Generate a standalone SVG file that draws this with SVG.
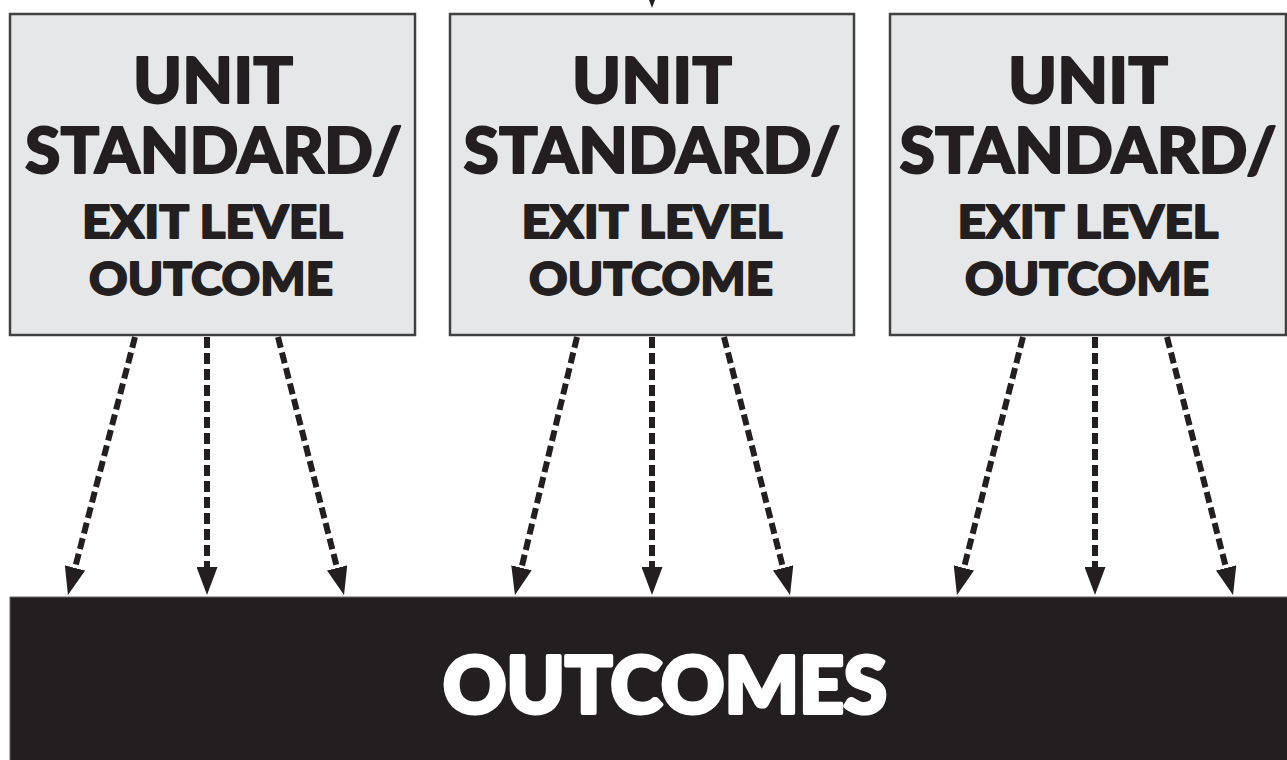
<svg xmlns="http://www.w3.org/2000/svg" width="1287" height="760" viewBox="0 0 1287 760">
<style>
.box{fill:#e6e7e8;stroke:#404040;stroke-width:2.5}
.t{font-family:Lato,"Liberation Sans",sans-serif;font-weight:900;fill:#231f20;stroke:#231f20;stroke-width:1.8;stroke-linejoin:round;text-anchor:middle}
.big{font-size:62px}
.sm{font-size:46px}
.conn{stroke:#231f20;stroke-width:6;stroke-dasharray:11 5;fill:none;marker-end:url(#ah)}
.out{fill:#231f20;stroke:#666;stroke-width:1}
.ot{font-family:Lato,"Liberation Sans",sans-serif;font-weight:900;font-size:78px;fill:#ffffff;stroke:#ffffff;stroke-width:4;stroke-linejoin:round;text-anchor:middle}
</style>
<defs>
<marker id="ah" markerUnits="userSpaceOnUse" markerWidth="28" markerHeight="21" viewBox="0 0 28 21" refX="0" refY="10.5" orient="auto">
<path d="M0,0 L28,10.5 L0,21 z" fill="#231f20"/>
</marker>
</defs>
<rect width="1287" height="760" fill="#ffffff"/>
<g id="node-unit1">
<rect class="box" x="10" y="14" width="405" height="321"/>
<text class="t big" x="213" y="103" textLength="160" lengthAdjust="spacingAndGlyphs">UNIT</text>
<text class="t big" x="213.5" y="173" textLength="377" lengthAdjust="spacingAndGlyphs">STANDARD/</text>
<text class="t sm" x="212.5" y="238" textLength="261" lengthAdjust="spacingAndGlyphs">EXIT LEVEL</text>
<text class="t sm" x="211" y="295" textLength="244" lengthAdjust="spacingAndGlyphs">OUTCOME</text>
</g>
<g id="node-unit2">
<rect class="box" x="450" y="14" width="404" height="321"/>
<text class="t big" x="652" y="103" textLength="160" lengthAdjust="spacingAndGlyphs">UNIT</text>
<text class="t big" x="652" y="173" textLength="377" lengthAdjust="spacingAndGlyphs">STANDARD/</text>
<text class="t sm" x="652" y="238" textLength="261" lengthAdjust="spacingAndGlyphs">EXIT LEVEL</text>
<text class="t sm" x="651" y="295" textLength="244" lengthAdjust="spacingAndGlyphs">OUTCOME</text>
</g>
<g id="node-unit3">
<rect class="box" x="890" y="14" width="396" height="321"/>
<text class="t big" x="1088" y="103" textLength="160" lengthAdjust="spacingAndGlyphs">UNIT</text>
<text class="t big" x="1088" y="173" textLength="377" lengthAdjust="spacingAndGlyphs">STANDARD/</text>
<text class="t sm" x="1088" y="238" textLength="261" lengthAdjust="spacingAndGlyphs">EXIT LEVEL</text>
<text class="t sm" x="1087" y="295" textLength="244" lengthAdjust="spacingAndGlyphs">OUTCOME</text>
</g>
<g id="node-outcomes">
<rect class="out" x="10" y="597" width="1290" height="170"/>
<text class="ot" x="665" y="713" textLength="444" lengthAdjust="spacingAndGlyphs">OUTCOMES</text>
</g>
<g id="connectors">
<line class="conn" x1="135" y1="337" x2="75" y2="567.9"/>
<line class="conn" x1="207" y1="337" x2="207" y2="567"/>
<line class="conn" x1="278" y1="337" x2="337.1" y2="567.9"/>
<line class="conn" x1="577" y1="337" x2="521.5" y2="567.8"/>
<line class="conn" x1="652" y1="337" x2="652" y2="567"/>
<line class="conn" x1="724" y1="337" x2="783.1" y2="567.9"/>
<line class="conn" x1="1023" y1="337" x2="963.9" y2="567.9"/>
<line class="conn" x1="1095" y1="337" x2="1095" y2="567"/>
<line class="conn" x1="1167" y1="337" x2="1226.1" y2="567.9"/>
<line class="conn" x1="652" y1="-120" x2="652" y2="-20"/>
</g>
</svg>
